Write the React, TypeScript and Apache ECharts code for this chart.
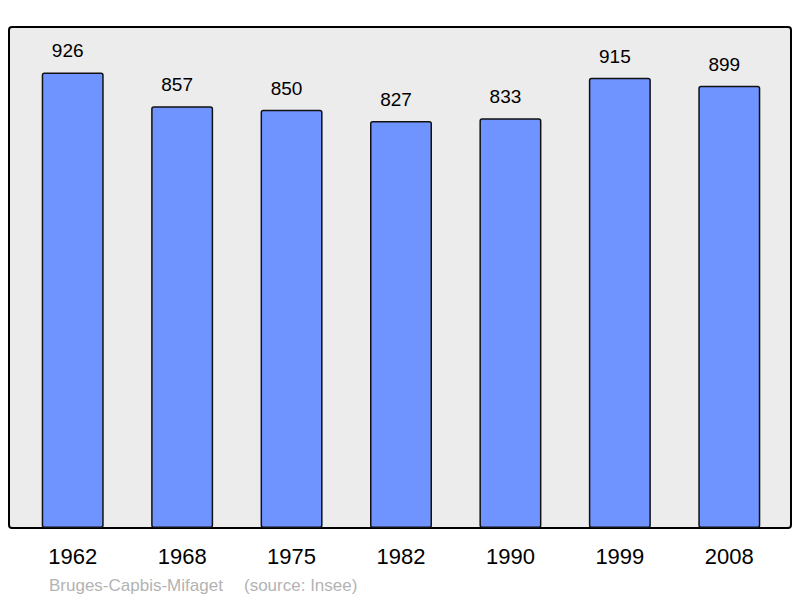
import React, { useEffect, useRef } from "react";
import * as echarts from "echarts";

const years = ["1962", "1968", "1975", "1982", "1990", "1999", "2008"];
const population = [926, 857, 850, 827, 833, 915, 899];
const footerName = "Bruges-Capbis-Mifaget";
const footerSource = "(source: Insee)";

export default function App() {
  const ref = useRef<HTMLDivElement>(null);
  useEffect(() => {
    if (!ref.current) return;
    const chart = echarts.init(ref.current, null, { renderer: "svg" });
    chart.setOption({
      animation: false,
      backgroundColor: "#ffffff",
      grid: { left: 18, right: 16, top: 36, bottom: 70, containLabel: false },
      graphic: [
        {
          type: "rect",
          z: -10,
          shape: { x: 9, y: 27, width: 782, height: 501, r: 3 },
          style: { fill: "#ececec", stroke: "#000000", lineWidth: 2 },
          silent: true,
        },
        {
          type: "text",
          x: 49,
          y: 585,
          style: {
            text: footerName,
            fill: "#b3b3b3",
            font: "17px 'Liberation Sans', Arial, sans-serif",
            verticalAlign: "middle",
            align: "left",
          },
        },
        {
          type: "text",
          x: 244,
          y: 585,
          style: {
            text: footerSource,
            fill: "#b3b3b3",
            font: "17px 'Liberation Sans', Arial, sans-serif",
            verticalAlign: "middle",
            align: "left",
          },
        },
      ],
      xAxis: {
        type: "category",
        data: years,
        axisLine: { show: false },
        axisTick: { show: false },
        axisLabel: {
          color: "#000000",
          fontSize: 22,
          fontFamily: "'Liberation Sans', Arial, sans-serif",
          margin: 17,
        },
      },
      yAxis: {
        type: "value",
        min: 0,
        max: 1000,
        show: false,
        splitLine: { show: false },
      },
      series: [
        {
          type: "bar",
          data: population,
          barWidth: 62,
          itemStyle: {
            color: "#7094ff",
            borderColor: "#111111",
            borderWidth: 1.5,
            borderRadius: 2,
          },
          label: {
            show: true,
            position: "top",
            distance: 12,
            offset: [-5, 0],
            color: "#000000",
            fontSize: 19,
            fontFamily: "'Liberation Sans', Arial, sans-serif",
          },
        },
      ],
    });
    return () => chart.dispose();
  }, []);
  return (
    <div
      ref={ref}
      style={{ position: "fixed", left: 0, top: 0, width: 800, height: 598 }}
    />
  );
}
